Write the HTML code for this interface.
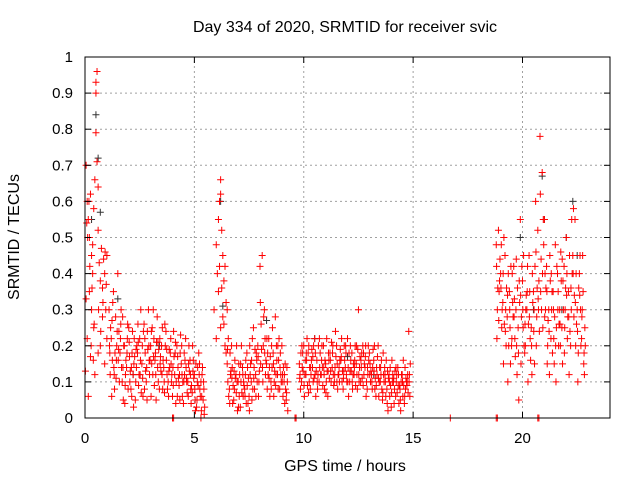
<!DOCTYPE html>
<html><head><meta charset="utf-8"><style>
body{margin:0;background:#fff}
svg text{font-family:"Liberation Sans",sans-serif;font-size:16px;fill:#000}
svg text.tick{font-size:15px}
</style></head><body>
<svg id="c" width="640" height="480" xmlns="http://www.w3.org/2000/svg">
<rect width="640" height="480" fill="#fff"/>
<g id="grid"></g><g id="pts"></g><g id="axes"></g>
<text x="345" y="32" text-anchor="middle">Day 334 of 2020, SRMTID for receiver svic</text>
<text x="345" y="471" text-anchor="middle">GPS time / hours</text>
<text transform="translate(19,237) rotate(-90)" text-anchor="middle">SRMTID / TECUs</text>
</svg>
<script>
const xTicks=[0,5,10,15,20];
const yTicks=[0,0.1,0.2,0.3,0.4,0.5,0.6,0.7,0.8,0.9,1];
const yTickLabels=["0","0.1","0.2","0.3","0.4","0.5","0.6","0.7","0.8","0.9","1"];
const segATimes=[0.05,0.02,0.1,0.15,0.2,0.25,0.3,0.35,0.4,0.45,0.5,0.5,0.5,0.55,0.55,0.6,0.6,0.65,0.7,0.75,0.8,0.85,0.9,0.95,1.0,0.3,0.4,0.2,0.1,0.6,0.7,0.8,0.9,1.0,0.15,0.35,0.45,0.25,0.05,0.12,0.22,0.32,0.42,0.62,0.72,0.82,0.92,0.97,0.08,0.18,0.28,0.38];
const segAValues=[0.7,0.13,0.6,0.55,0.5,0.62,0.45,0.4,0.58,0.66,0.93,0.9,0.79,0.96,0.71,0.64,0.52,0.43,0.38,0.47,0.36,0.44,0.4,0.3,0.45,0.3,0.25,0.35,0.22,0.18,0.2,0.28,0.15,0.22,0.06,0.48,0.12,0.17,0.33,0.5,0.42,0.36,0.26,0.3,0.24,0.32,0.46,0.37,0.54,0.6,0.2,0.16];
const segBTimes=[1.1,1.2,1.3,1.4,1.5,1.6,1.7,1.8,1.9,2.0,2.1,2.2,2.3,2.4,2.5,2.6,2.7,2.8,2.9,3.0,3.1,3.2,3.3,3.4,3.5,3.6,3.7,3.8,3.9,4.0,4.1,4.2,4.3,4.4,4.5,4.6,4.7,4.8,4.9,5.0,5.1,5.2,5.3,5.4];
const segBValues1=[.3,.22,.35,.28,.4,.18,.1,.2,.14,.25,.08,.12,.05,.18,.22,.15,.26,.1,.3,.2,.12,.16,.28,.08,.2,.14,.24,.1,.18,.06,.12,.2,.09,.15,.04,.22,.1,.16,.07,.12,.03,.18,.1,.05];
const segBValues2=[.12,.16,.08,.2,.24,.3,.05,.12,.26,.1,.18,.22,.14,.09,.3,.06,.18,.24,.12,.15,.22,.05,.1,.17,.08,.26,.12,.19,.1,.24,.04,.14,.18,.06,.12,.1,.2,.04,.16,.02,.14,.08,.12,.01];
const segBValues3=[.2,.06,.14,.11,.16,.22,.28,.04,.18,.21,.14,.03,.1,.26,.12,.2,.08,.14,.2,.06,.3,.18,.14,.22,.12,.1,.16,.06,.22,.14,.18,.06,.12,.2,.1,.14,.06,.12,.2,.08,.05,.12,.02,.1];
const segBValues4=[.25,.32,.18,.24,.1,.14,.2,.16,.08,.13,.24,.17,.2,.12,.07,.24,.13,.19,.16,.25,.09,.21,.19,.13,.16,.2,.08,.14,.12,.17,.1,.11,.23,.1,.16,.07,.13,.09,.11,.15,.09,.06,.14,.03];
const segBValues5=[.18,.27,.12,.16,.19,.26,.14,.09,.22,.17,.06,.15,.19,.21,.16,.11,.22,.05,.16,.24,.17,.12,.21,.15,.25,.07,.19,.13,.15,.09,.21,.17,.05,.12,.18,.11,.15,.08,.13,.05,.1,.15,.06,.08];
const segCTimes=[5.9,6.0,6.05,6.1,6.15,6.2,6.2,6.25,6.3,6.35,6.4,6.45,6.5,6.1,6.2,6.3,6.4,6.0,6.15,6.25,6.35,6.45];
const segCValues=[.3,.48,.4,.55,.6,.62,.66,.52,.45,.38,.42,.32,.3,.35,.25,.28,.2,.22,.42,.36,.26,.18];
const segDTimes=[6.5,6.6,6.7,6.8,6.9,7.0,7.1,7.2,7.3,7.4,7.5,7.6,7.7,7.8,7.9,8.0,8.1,8.2,8.3,8.4,8.5,8.6,8.7,8.8,8.9,9.0,9.1,9.2];
const segDValues1=[.15,.08,.2,.05,.12,.1,.03,.14,.08,.18,.06,.1,.25,.12,.2,.42,.45,.3,.15,.22,.1,.18,.28,.12,.08,.2,.1,.05];
const segDValues2=[.22,.12,.04,.16,.1,.06,.2,.1,.16,.04,.12,.22,.08,.16,.1,.26,.2,.12,.18,.06,.14,.1,.2,.16,.12,.06,.15,.1];
const segDValues3=[.1,.18,.14,.08,.2,.15,.1,.06,.12,.14,.2,.05,.14,.18,.06,.15,.1,.22,.08,.14,.2,.06,.12,.08,.18,.12,.04,.14];
const segDValues4=[.06,.13,.09,.11,.02,.12,.07,.09,.04,.11,.15,.08,.19,.1,.13,.19,.28,.16,.12,.17,.25,.13,.16,.22,.1,.14,.08,.02];
const segDValues5=[.19,.04,.11,.13,.07,.03,.15,.12,.06,.09,.02,.16,.11,.06,.17,.32,.14,.18,.22,.11,.08,.15,.09,.2,.14,.1,.12,.07];
const segETimes=[9.8,9.9,10.0,10.1,10.2,10.3,10.4,10.5,10.6,10.7,10.8,10.9,11.0,11.1,11.2,11.3,11.4,11.5,11.6,11.7,11.8,11.9,12.0,12.1,12.2,12.3,12.4,12.5,12.6,12.7,12.8,12.9,13.0,13.1,13.2,13.3,13.4,13.5,13.6,13.7,13.8,13.9,14.0,14.1,14.2,14.3,14.4,14.5,14.6,14.7,14.8];
const segEValues1=[.15,.1,.2,.12,.18,.08,.14,.22,.16,.1,.12,.2,.15,.06,.18,.14,.1,.2,.12,.16,.08,.14,.22,.1,.18,.12,.15,.3,.1,.2,.14,.08,.18,.12,.16,.06,.2,.1,.05,.14,.08,.12,.03,.1,.06,.14,.08,.12,.04,.1,.24];
const segEValues2=[.08,.18,.12,.22,.1,.16,.2,.06,.12,.18,.14,.08,.22,.16,.1,.12,.24,.08,.16,.1,.2,.12,.06,.16,.12,.2,.08,.14,.18,.12,.06,.2,.1,.14,.08,.12,.1,.16,.12,.06,.02,.14,.1,.08,.12,.04,.1,.16,.08,.12,.06];
const segEValues3=[.12,.14,.06,.16,.2,.12,.1,.18,.08,.14,.2,.12,.1,.18,.13,.2,.14,.15,.1,.22,.13,.18,.14,.2,.08,.16,.12,.1,.14,.18,.2,.12,.15,.08,.2,.14,.06,.12,.18,.1,.13,.06,.16,.04,.1,.12,.02,.06,.14,.1,.12];
const segEValues4=[.18,.13,.16,.09,.14,.19,.11,.13,.2,.12,.09,.16,.13,.11,.21,.09,.17,.12,.19,.13,.16,.1,.18,.13,.15,.09,.19,.17,.11,.15,.1,.16,.13,.19,.11,.17,.14,.08,.1,.16,.11,.09,.12,.13,.07,.09,.12,.09,.11,.07,.15];
const segEValues5=[.11,.2,.09,.18,.07,.14,.17,.12,.1,.22,.16,.14,.07,.13,.16,.18,.12,.1,.14,.17,.11,.2,.1,.13,.1,.14,.2,.12,.16,.09,.17,.14,.12,.1,.13,.09,.11,.14,.07,.12,.04,.1,.07,.11,.14,.09,.05,.1,.06,.09,.1];
const segFTimes=[18.8,18.9,19.0,19.1,19.2,19.3,19.4,19.5,19.6,19.7,19.8,19.9,20.0,20.1,20.2,20.3,20.4,20.5,20.6,20.7,20.8,20.9,21.0,21.1,21.2,21.3,21.4,21.5,21.6,21.7,21.8,21.9,22.0,22.1,22.2,22.3,22.4,22.5,22.6,22.7,22.8];
const segFValues1=[.48,.52,.4,.32,.45,.28,.35,.2,.42,.3,.25,.55,.38,.18,.3,.45,.25,.35,.6,.52,.78,.68,.55,.42,.3,.22,.35,.48,.4,.3,.25,.42,.5,.35,.2,.45,.55,.3,.4,.22,.15];
const segFValues2=[.3,.38,.25,.5,.2,.4,.15,.32,.22,.12,.38,.28,.45,.3,.1,.22,.4,.15,.28,.38,.44,.55,.3,.2,.45,.35,.15,.25,.2,.46,.38,.3,.22,.45,.55,.28,.4,.18,.3,.45,.25];
const segFValues3=[.22,.35,.48,.15,.3,.1,.25,.4,.33,.2,.05,.15,.25,.2,.42,.35,.12,.3,.2,.3,.35,.25,.4,.15,.12,.3,.22,.1,.35,.2,.15,.25,.4,.12,.3,.58,.2,.1,.45,.3,.12];
const segFValues4=[.36,.44,.3,.26,.36,.2,.42,.28,.17,.36,.32,.42,.2,.34,.26,.16,.32,.42,.36,.24,.3,.48,.36,.27,.38,.18,.28,.42,.26,.38,.3,.36,.28,.24,.4,.34,.26,.36,.2,.35,.2];
const segFValues5=[.42,.27,.36,.4,.24,.34,.3,.22,.28,.44,.18,.34,.3,.26,.35,.28,.2,.24,.46,.33,.62,.4,.28,.35,.24,.4,.3,.2,.3,.26,.44,.18,.34,.28,.36,.4,.32,.24,.34,.28,.18];
const zeroTimes=[4.0,4.05,5.3,9.6,9.65,16.7,18.8,18.85,20.7,20.75];
const blackTimes=[0.5,0.6,0.3,0.7,1.5,2.2,3.4,6.2,6.3,8.3,10.5,12.0,13.2,19.9,20.5,20.9,21.0,21.8,22.3,22.0,22.5];
const blackValues=[0.84,0.72,0.55,0.57,0.33,0.12,0.2,0.6,0.31,0.27,0.22,0.17,0.12,0.5,0.3,0.67,0.55,0.3,0.6,0.5,0.45];

const X0=85,X1=610,Y0=418,Y1=57;
const sx=t=>X0+t/24*(X1-X0), sy=v=>Y0-v*(Y0-Y1);
const NS="http://www.w3.org/2000/svg";
function mk(tag,attrs,parent){const e=document.createElementNS(NS,tag);for(const k in attrs)e.setAttribute(k,attrs[k]);parent.appendChild(e);return e;}
const grid=document.getElementById('grid'),pts=document.getElementById('pts'),ax=document.getElementById('axes');
xTicks.forEach(t=>{const x=sx(t);
 if(t>0){const g=mk('line',{x1:x,x2:x,y1:Y0,y2:Y1,stroke:'#a0a0a0','stroke-dasharray':'2,3'},grid);
 
 }
 mk('line',{x1:x,x2:x,y1:Y0,y2:Y0-6,stroke:'#000'},ax);mk('line',{x1:x,x2:x,y1:Y1,y2:Y1+6,stroke:'#000'},ax);
 const l=mk('text',{x:x,y:Y0+25,'text-anchor':'middle','class':'tick'},ax);l.textContent=t;
 
 
});
yTicks.forEach((v,i)=>{const y=sy(v);
 if(v>0&&v<1){const g=mk('line',{x1:X0,x2:X1,y1:y,y2:y,stroke:'#a0a0a0','stroke-dasharray':'2,3'},grid);
 
 }
 mk('line',{x1:X0,x2:X0+6,y1:y,y2:y,stroke:'#000'},ax);mk('line',{x1:X1,x2:X1-6,y1:y,y2:y,stroke:'#000'},ax);
 const l=mk('text',{x:X0-12,y:y+5,'text-anchor':'end','class':'tick'},ax);l.textContent=yTickLabels[i];
 
 
});
const f=mk('rect',{x:X0,y:Y1,width:X1-X0,height:Y0-Y1,fill:'none',stroke:'#000'},ax);


function plus(t,v,col,name){const x=sx(t),y=sy(v);
 const p=mk('path',{d:`M${x-3.5},${y}h7M${x},${y-3.5}v7`,stroke:col,'stroke-width':1,fill:'none'},pts);
 
 }
blackTimes.forEach((t,i)=>plus(t,blackValues[i],'#333','point-black'));
const red=[[segATimes,segAValues,0],[segBTimes,segBValues1,0],[segBTimes,segBValues2,0.05],[segBTimes,segBValues3,0.02],[segBTimes,segBValues4,0.07],[segBTimes,segBValues5,0.035],
 [segCTimes,segCValues,0],[segDTimes,segDValues1,0],[segDTimes,segDValues2,0.05],[segDTimes,segDValues3,0.03],[segDTimes,segDValues4,0.07],[segDTimes,segDValues5,0.015],
 [segETimes,segEValues1,0],[segETimes,segEValues2,0.05],[segETimes,segEValues3,0.03],[segETimes,segEValues4,0.07],[segETimes,segEValues5,0.015],
 [segFTimes,segFValues1,0],[segFTimes,segFValues2,0.05],[segFTimes,segFValues3,0.03],[segFTimes,segFValues4,0.07],[segFTimes,segFValues5,0.015]];
red.forEach(([T,V,o])=>T.forEach((t,i)=>plus(t+o,V[i],'#f00','point-red')));
zeroTimes.forEach(t=>plus(t,0,'#f00','point-zero'));
</script>
</body></html>
